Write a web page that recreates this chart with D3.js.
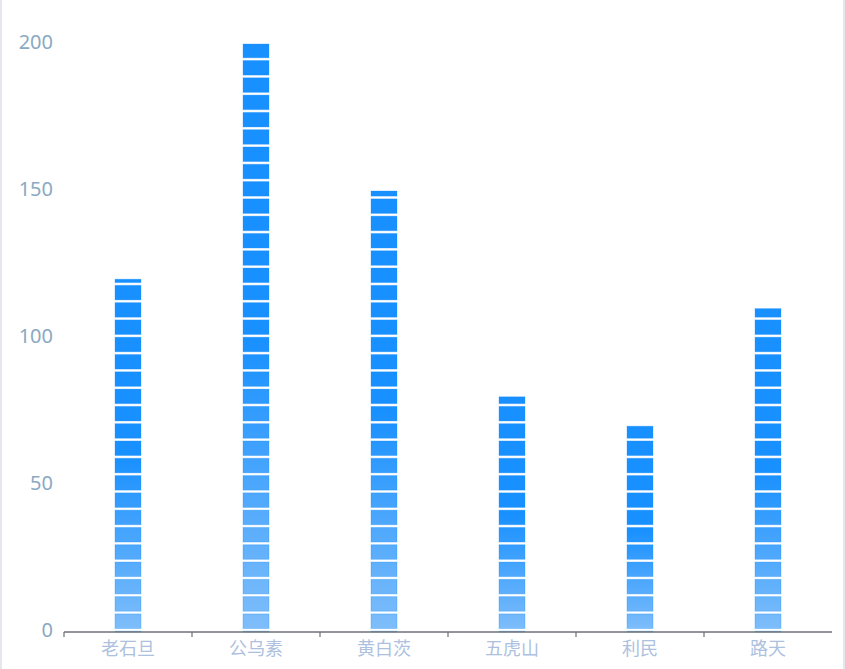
<!DOCTYPE html>
<html>
<head>
<meta charset="utf-8">
<script src="https://cdn.jsdelivr.net/npm/d3@7/dist/d3.min.js"></script>
<style>
  html, body { margin: 0; padding: 0; background: #fff; }
  #chart {
    width: 845px; height: 669px; box-sizing: border-box;
    border-left: 2px solid #e6e6ee; border-right: 2px solid #e6e6ee;
    position: relative; overflow: hidden;
  }
  svg { position: absolute; left: -2px; top: 0; }
</style>
</head>
<body>
<div id="chart"></div>
<script>
// Stations and their counts
const categories = ['老石旦', '公乌素', '黄白茨', '五虎山', '利民', '路天'];
const values = [120, 200, 150, 80, 70, 110];
const yTicks = [0, 50, 100, 150, 200];

const W = 845, H = 669;
const plot = { left: 64, right: 832, top: 44, bottom: 632 };

const svg = d3.select('#chart').append('svg')
  .attr('width', W).attr('height', H);

const x = d3.scaleBand().domain(categories).range([plot.left, plot.right]).padding(0);
const y = d3.scaleLinear().domain([0, 200]).range([plot.bottom, plot.top]);

// Per-bar vertical gradient: pale at the base, full blue from mid-height up
const defs = svg.append('defs');
categories.forEach((c, i) => {
  const g = defs.append('linearGradient')
    .attr('id', 'grad' + i)
    .attr('gradientUnits', 'userSpaceOnUse')
    .attr('x1', 0).attr('x2', 0)
    .attr('y1', y(0)).attr('y2', y(values[i]));
  g.append('stop').attr('offset', 0).attr('stop-color', '#80befa');
  g.append('stop').attr('offset', 0.5).attr('stop-color', '#1890ff');
  g.append('stop').attr('offset', 1).attr('stop-color', '#1890ff');
});

// Repeated block symbols stacked along each bar
const barW = 26;
const nBlocks = 34;
const pitch = (y(0) - y(200)) / nBlocks;
const blockH = pitch - 2.7;

categories.forEach((c, i) => {
  const top = y(values[i]);
  const base = y(0);
  const cx = x(c) + x.bandwidth() / 2;
  const blocks = [];
  for (let k = 0; k <= nBlocks + 1; k++) {
    const bTop = y(200) + k * pitch - 0.8;
    const bBot = bTop + blockH;
    const y0 = Math.max(bTop, top);
    const y1 = Math.min(bBot, base);
    if (y1 - y0 > 0.3) blocks.push({ y0, y1 });
  }
  svg.append('g').selectAll('rect').data(blocks).join('rect')
    .attr('x', cx - barW / 2)
    .attr('width', barW)
    .attr('y', d => d.y0)
    .attr('height', d => d.y1 - d.y0)
    .attr('fill', 'url(#grad' + i + ')')
    .attr('stroke', 'rgba(24,144,255,0.3)')
    .attr('stroke-width', 1);
});

// X axis
const xAxis = svg.append('g');
xAxis.append('line')
  .attr('x1', plot.left).attr('x2', plot.right)
  .attr('y1', plot.bottom).attr('y2', plot.bottom)
  .attr('stroke', '#6e7079').attr('stroke-width', 1.5);
xAxis.selectAll('line.tick').data(categories).join('line')
  .attr('class', 'tick')
  .attr('x1', d => x(d)).attr('x2', d => x(d))
  .attr('y1', plot.bottom).attr('y2', plot.bottom + 5)
  .attr('stroke', '#6e7079').attr('stroke-width', 1.2);
xAxis.selectAll('text').data(categories).join('text')
  .attr('x', d => x(d) + x.bandwidth() / 2)
  .attr('y', plot.bottom + 23)
  .attr('text-anchor', 'middle')
  .attr('font-family', '"Noto Sans CJK SC", sans-serif')
  .attr('font-size', 18)
  .attr('fill', '#adc1de')
  .text(d => d);

// Y axis labels (no line, no grid)
svg.append('g').selectAll('text').data(yTicks).join('text')
  .attr('x', 53)
  .attr('y', d => y(d) - 2)
  .attr('dy', '0.35em')
  .attr('text-anchor', 'end')
  .attr('font-family', '"Noto Sans", sans-serif')
  .attr('font-size', 20)
  .attr('fill', '#8aa9c2')
  .text(d => d);
</script>
</body>
</html>
